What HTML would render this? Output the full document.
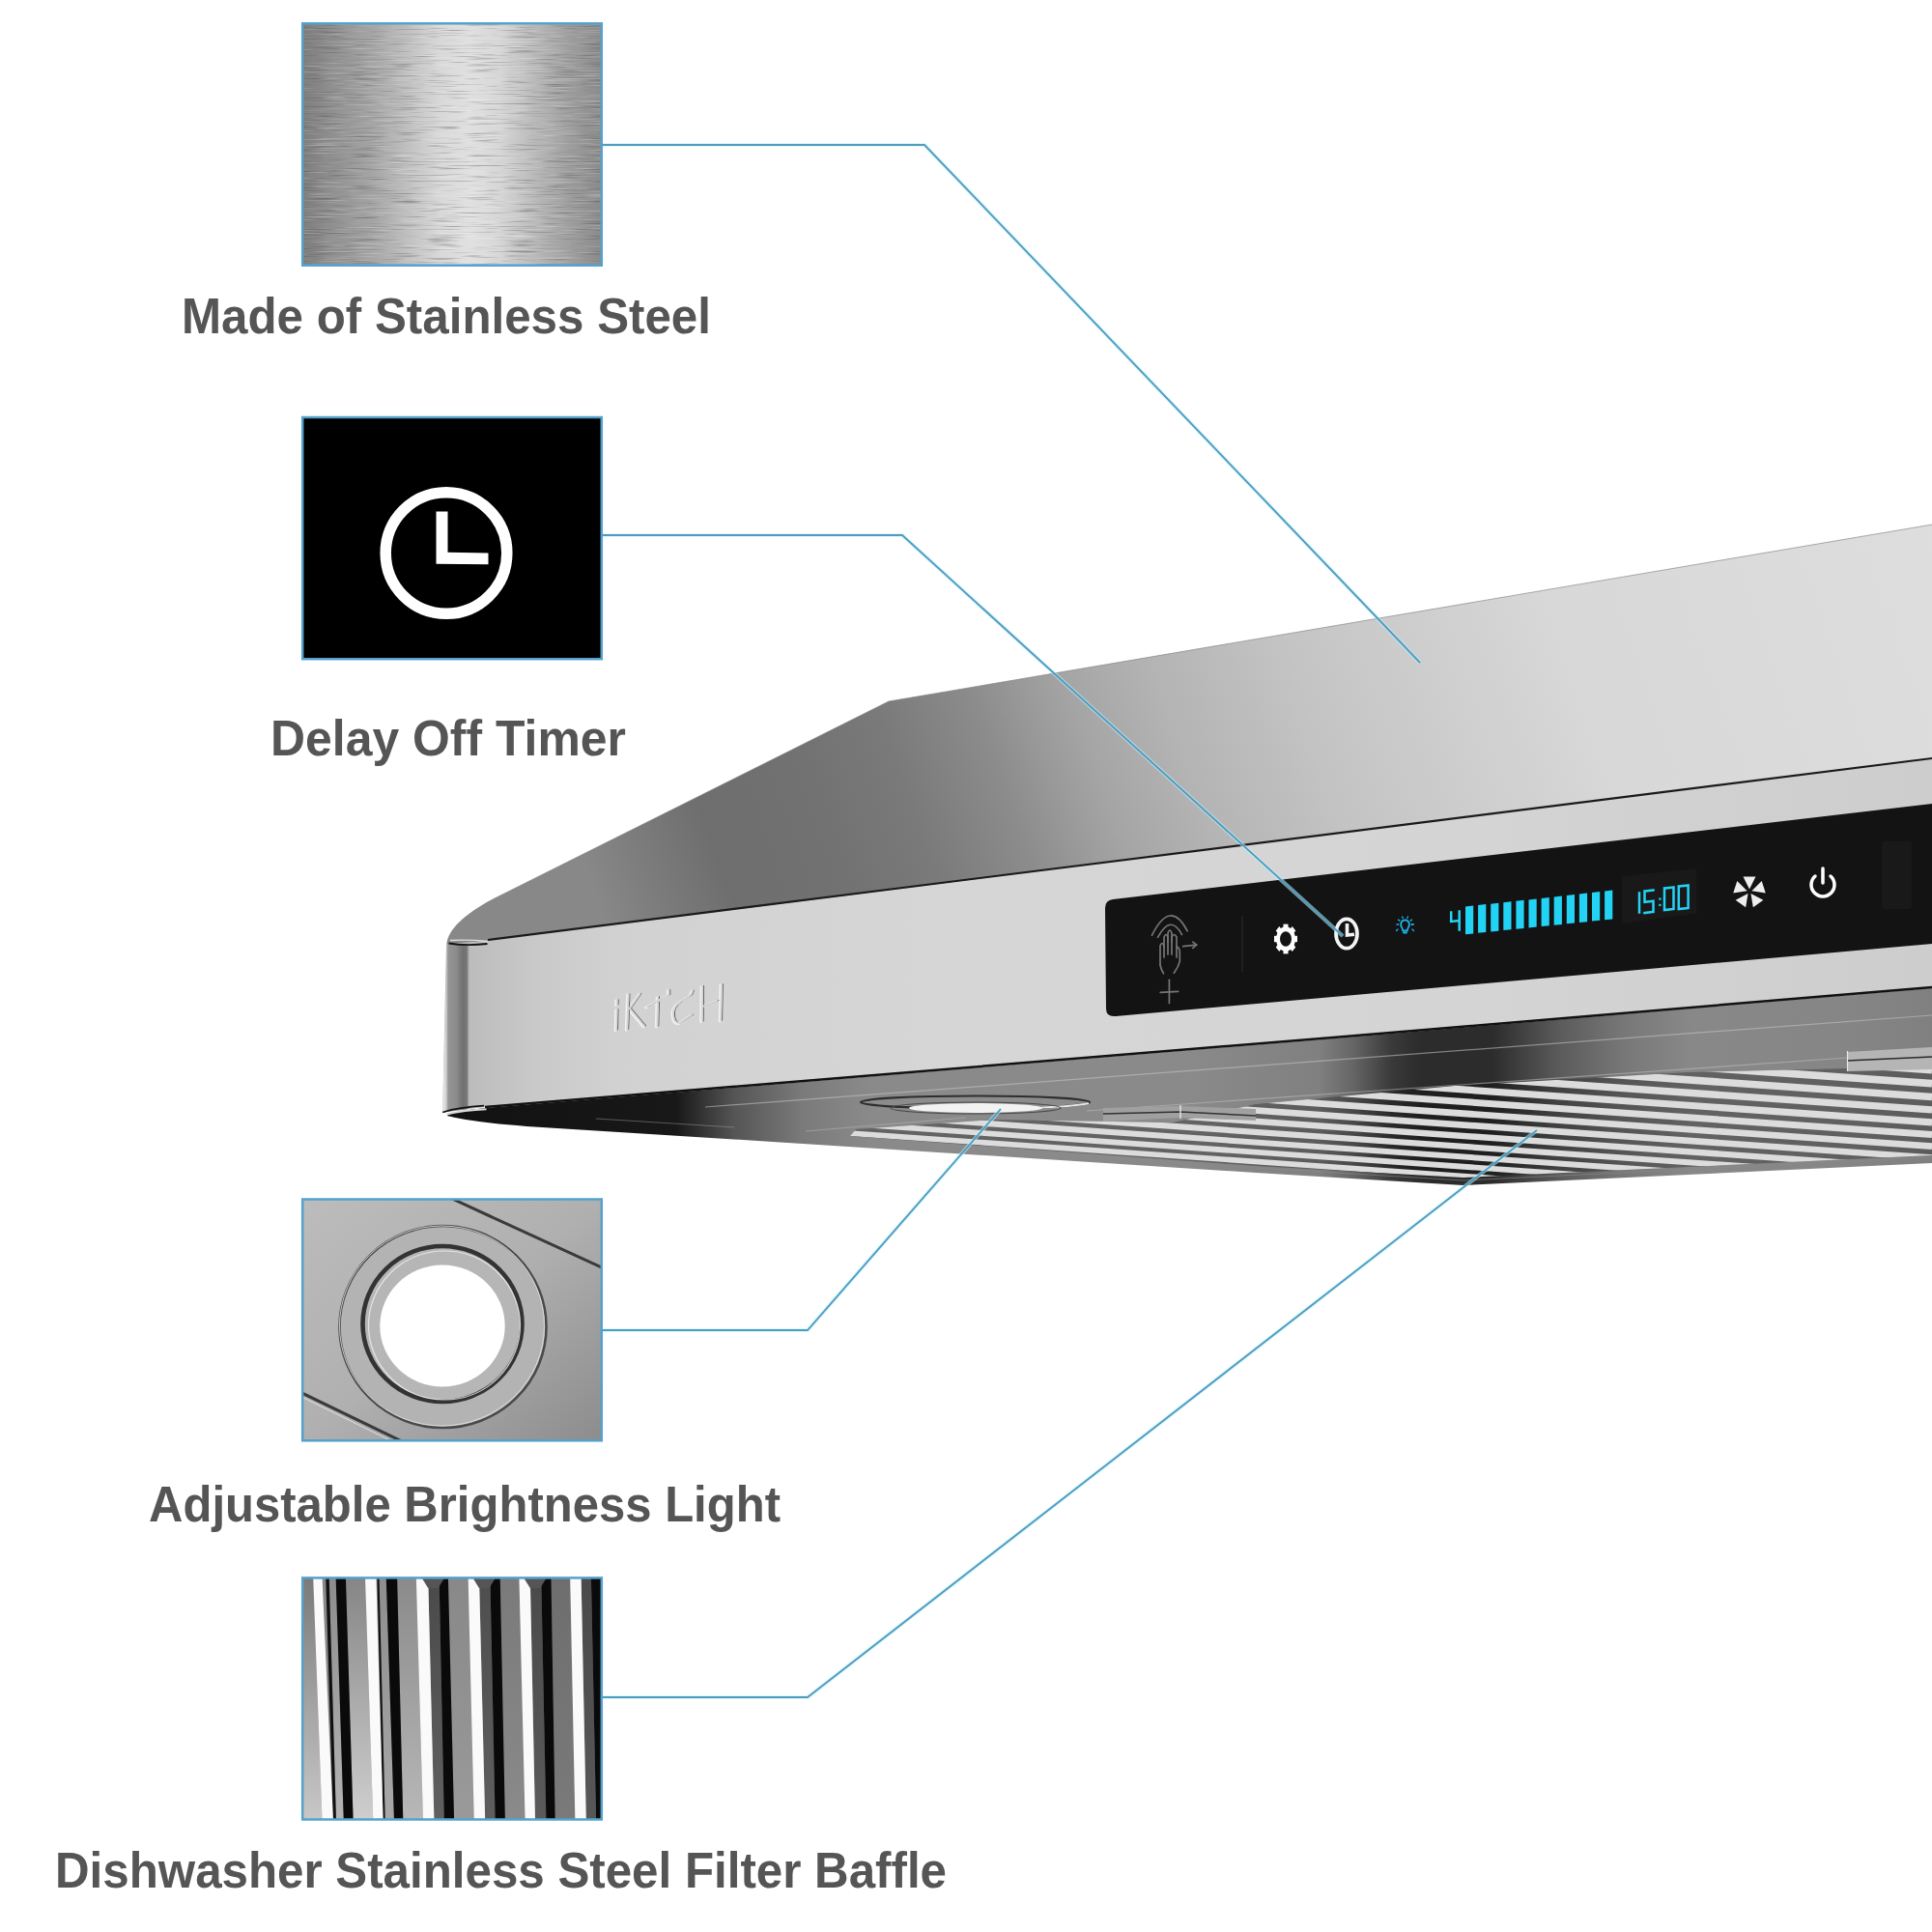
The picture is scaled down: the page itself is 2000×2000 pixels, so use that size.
<!DOCTYPE html>
<html><head><meta charset="utf-8"><title>Range hood</title>
<style>
html,body{margin:0;padding:0;background:#fff;width:2000px;height:2000px;overflow:hidden}
svg{display:block}
.lbl{font-family:"Liberation Sans",sans-serif;font-weight:bold;fill:#555555}
</style></head><body>
<svg width="2000" height="2000" viewBox="0 0 2000 2000">
<defs>


<linearGradient id="steel" x1="0" y1="0" x2="1" y2="0">
 <stop offset="0" stop-color="#7c7c7c"/>
 <stop offset="0.08" stop-color="#8c8c8c"/>
 <stop offset="0.24" stop-color="#a6a6a6"/>
 <stop offset="0.38" stop-color="#c6c6c6"/>
 <stop offset="0.46" stop-color="#d8d8d8"/>
 <stop offset="0.56" stop-color="#e0e0e0"/>
 <stop offset="0.66" stop-color="#d6d6d6"/>
 <stop offset="0.77" stop-color="#bababa"/>
 <stop offset="0.9" stop-color="#9c9c9c"/>
 <stop offset="1" stop-color="#8a8a8a"/>
</linearGradient>
<filter id="brushD" x="0" y="0" width="1" height="1" color-interpolation-filters="sRGB">
 <feTurbulence type="fractalNoise" baseFrequency="0.025 0.7" numOctaves="2" seed="3"/>
 <feColorMatrix type="matrix" values="0 0 0 0 0.25  0 0 0 0 0.25  0 0 0 0 0.25  3.2 0 0 0 -1.75"/>
</filter>
<filter id="brushL" x="0" y="0" width="1" height="1" color-interpolation-filters="sRGB">
 <feTurbulence type="fractalNoise" baseFrequency="0.025 0.7" numOctaves="2" seed="11"/>
 <feColorMatrix type="matrix" values="0 0 0 0 1  0 0 0 0 1  0 0 0 0 1  3.2 0 0 0 -1.75"/>
</filter>
<linearGradient id="lightbox" x1="0" y1="0" x2="1" y2="1">
 <stop offset="0" stop-color="#bcbcbc"/>
 <stop offset="0.5" stop-color="#b0b0b0"/>
 <stop offset="1" stop-color="#8c8c8c"/>
</linearGradient>
<linearGradient id="topsurf" gradientUnits="userSpaceOnUse" x1="600" y1="880" x2="2000" y2="390">
 <stop offset="0" stop-color="#888"/>
 <stop offset="0.04" stop-color="#7c7c7c"/>
 <stop offset="0.09" stop-color="#6e6e6e"/>
 <stop offset="0.17" stop-color="#727272"/>
 <stop offset="0.229" stop-color="#7a7a7a"/>
 <stop offset="0.295" stop-color="#8c8c8c"/>
 <stop offset="0.33" stop-color="#9a9a9a"/>
 <stop offset="0.36" stop-color="#a5a5a5"/>
 <stop offset="0.42" stop-color="#b4b4b4"/>
 <stop offset="0.515" stop-color="#c4c4c4"/>
 <stop offset="0.595" stop-color="#cdcdcd"/>
 <stop offset="0.7" stop-color="#d8d8d8"/>
 <stop offset="1" stop-color="#dedede"/>
</linearGradient>
<linearGradient id="frontface" gradientUnits="userSpaceOnUse" x1="460" y1="0" x2="2000" y2="0">
 <stop offset="0" stop-color="#b5b5b5"/>
 <stop offset="0.02" stop-color="#bdbdbd"/>
 <stop offset="0.065" stop-color="#cacaca"/>
 <stop offset="0.125" stop-color="#d2d2d2"/>
 <stop offset="0.35" stop-color="#d6d6d6"/>
 <stop offset="0.7" stop-color="#d4d4d4"/>
 <stop offset="1" stop-color="#cdcdcd"/>
</linearGradient>
<linearGradient id="capgrad" gradientUnits="userSpaceOnUse" x1="458.5" y1="0" x2="486" y2="0">
 <stop offset="0" stop-color="#e8e8e8"/>
 <stop offset="0.12" stop-color="#d0d0d0"/>
 <stop offset="0.2" stop-color="#959595"/>
 <stop offset="0.5" stop-color="#8c8c8c"/>
 <stop offset="0.75" stop-color="#707070"/>
 <stop offset="0.9" stop-color="#777"/>
 <stop offset="1" stop-color="#c0c0c0"/>
</linearGradient>
<linearGradient id="under" gradientUnits="userSpaceOnUse" x1="460" y1="0" x2="2000" y2="0">
 <stop offset="0.0000" stop-color="#111"/>
 <stop offset="0.1558" stop-color="#181818"/>
 <stop offset="0.1948" stop-color="#555"/>
 <stop offset="0.2403" stop-color="#7a7a7a"/>
 <stop offset="0.2857" stop-color="#8a8a8a"/>
 <stop offset="0.5000" stop-color="#8a8a8a"/>
 <stop offset="0.5877" stop-color="#808080"/>
 <stop offset="0.6104" stop-color="#666"/>
 <stop offset="0.6364" stop-color="#3a3a3a"/>
 <stop offset="0.6558" stop-color="#2c2c2c"/>
 <stop offset="0.7045" stop-color="#2c2c2c"/>
 <stop offset="0.7273" stop-color="#444"/>
 <stop offset="0.7487" stop-color="#5a5a5a"/>
 <stop offset="0.7922" stop-color="#777"/>
 <stop offset="0.8377" stop-color="#888"/>
 <stop offset="0.9351" stop-color="#868686"/>
 <stop offset="1.0000" stop-color="#808080"/>
</linearGradient>
<clipPath id="c1"><rect x="313" y="24" width="310" height="251"/></clipPath>
<clipPath id="c3"><rect x="313" y="1241" width="310" height="251"/></clipPath>
<clipPath id="c4"><rect x="313" y="1633" width="310" height="251"/></clipPath>
<clipPath id="cunder"><polygon points="463,1154 502,1147 2000,1025 2000,1204 1515,1227 1300,1214 800,1182"/></clipPath>
<clipPath id="cfilter"><polygon points="886,1169 1030,1159 1214,1162 1300,1143 1506,1124 1747,1110 2000,1104 2000,1196 1515,1219 1300,1207 880,1176"/></clipPath>
</defs>

<g clip-path="url(#c1)">
<rect x="312" y="23" width="312" height="253" fill="url(#steel)"/>
<rect x="312" y="23" width="312" height="253" fill="#000" filter="url(#brushD)" opacity="0.38"/>
<rect x="312" y="23" width="312" height="253" fill="#fff" filter="url(#brushL)" opacity="0.3"/>
</g>
<rect x="313.2" y="24.3" width="309.6" height="250.4" fill="none" stroke="#54a2cc" stroke-width="2.5"/>
<rect x="313.2" y="432" width="309.6" height="250.2" fill="#000" stroke="#54a2cc" stroke-width="2.5"/>
<circle cx="462" cy="572.5" r="62.8" fill="none" stroke="#fff" stroke-width="11.5"/>
<polygon points="451.5,529.5 463.5,529.5 463.5,571.8 505.5,572.5 505.5,584.3 451.5,583.8" fill="#fff"/>
<g clip-path="url(#c3)">
<rect x="312" y="1240" width="312" height="253" fill="url(#lightbox)"/>
<path d="M466,1240 L640,1320" stroke="#3a3a3a" stroke-width="3" fill="none"/>
<path d="M300,1436 L420,1494" stroke="#3a3a3a" stroke-width="3" fill="none"/>
<path d="M300,1440 L414,1496" stroke="#e0e0e0" stroke-width="1" fill="none"/>
<ellipse cx="458.5" cy="1373.5" rx="107" ry="104.5" fill="#b3b3b3" stroke="#4a4a4a" stroke-width="2.6"/>
<ellipse cx="457.5" cy="1372.5" rx="106" ry="103.5" fill="none" stroke="#e8e8e8" stroke-width="1" opacity="0.8"/>
<ellipse cx="458" cy="1370.5" rx="82.5" ry="80.5" fill="#b6b6b6" stroke="#333" stroke-width="4.6"/>
<ellipse cx="460" cy="1372" rx="78.5" ry="77" fill="none" stroke="#f0f0f0" stroke-width="1.2" opacity="0.8"/>
<ellipse cx="458" cy="1372.5" rx="64.7" ry="63" fill="#fff"/>
</g>
<rect x="313.2" y="1241.5" width="309.6" height="249.8" fill="none" stroke="#54a2cc" stroke-width="2.5"/>
<g clip-path="url(#c4)">
<rect x="312" y="1632" width="312" height="253" fill="#888"/>
<linearGradient id="bg1" x1="0" y1="0" x2="0" y2="1"><stop offset="0" stop-color="#7a7a7a"/><stop offset="1" stop-color="#c8c8c8"/></linearGradient>
<polygon points="306.6,1632 324.2,1632 333.5,1885 306.6,1885" fill="url(#bg1)"/>
<linearGradient id="bg2" x1="0" y1="0" x2="0" y2="1"><stop offset="0" stop-color="#858585"/><stop offset="1" stop-color="#cfcfcf"/></linearGradient>
<polygon points="357.9,1632 378.0,1632 386.3,1885 365.6,1885" fill="url(#bg2)"/>
<linearGradient id="bg3" x1="0" y1="0" x2="0" y2="1"><stop offset="0" stop-color="#8c8c8c"/><stop offset="1" stop-color="#b5b5b5"/></linearGradient>
<polygon points="340.7,1632 347.6,1632 355.8,1885 348.0,1885" fill="url(#bg3)"/>
<polygon points="347.6,1632 357.9,1632 365.6,1885 355.8,1885" fill="#0a0a0a"/>
<polygon points="337.2,1632 340.7,1632 348.0,1885 344.9,1885" fill="#111"/>
<polygon points="324.2,1632 333.5,1632 344.9,1885 333.5,1885" fill="#fafafa"/>
<linearGradient id="bg4" x1="0" y1="0" x2="0" y2="1"><stop offset="0" stop-color="#8a8a8a"/><stop offset="1" stop-color="#b8b8b8"/></linearGradient>
<polygon points="411.1,1632 430.8,1632 438.0,1885 417.3,1885" fill="url(#bg4)"/>
<linearGradient id="bg5" x1="0" y1="0" x2="0" y2="1"><stop offset="0" stop-color="#8e8e8e"/><stop offset="1" stop-color="#a8a8a8"/></linearGradient>
<polygon points="392.5,1632 399.7,1632 408.0,1885 398.7,1885" fill="url(#bg5)"/>
<polygon points="399.7,1632 411.1,1632 417.3,1885 408.0,1885" fill="#0a0a0a"/>
<polygon points="390.4,1632 392.5,1632 398.7,1885 396.6,1885" fill="#111"/>
<polygon points="378.0,1632 389.4,1632 396.6,1885 386.3,1885" fill="#fafafa"/>
<linearGradient id="bg6" x1="0" y1="0" x2="0" y2="1"><stop offset="0" stop-color="#888"/><stop offset="1" stop-color="#9a9a9a"/></linearGradient>
<polygon points="463.9,1632 484.6,1632 490.8,1885 470.1,1885" fill="url(#bg6)"/>
<linearGradient id="bg7" x1="0" y1="0" x2="0" y2="1"><stop offset="0" stop-color="#4a4a4a"/><stop offset="1" stop-color="#606060"/></linearGradient>
<polygon points="443.2,1632 454.6,1632 459.8,1885 449.4,1885" fill="url(#bg7)"/>
<polygon points="454.6,1632 463.9,1632 470.1,1885 459.8,1885" fill="#0a0a0a"/>
<polygon points="430.8,1632 443.2,1632 449.4,1885 438.0,1885" fill="#fafafa"/>
<linearGradient id="bg8" x1="0" y1="0" x2="0" y2="1"><stop offset="0" stop-color="#7a7a7a"/><stop offset="1" stop-color="#8a8a8a"/></linearGradient>
<polygon points="517.7,1632 537.4,1632 543.6,1885 522.9,1885" fill="url(#bg8)"/>
<linearGradient id="bg9" x1="0" y1="0" x2="0" y2="1"><stop offset="0" stop-color="#4e4e4e"/><stop offset="1" stop-color="#5e5e5e"/></linearGradient>
<polygon points="496.0,1632 507.4,1632 512.6,1885 502.2,1885" fill="url(#bg9)"/>
<polygon points="507.4,1632 517.7,1632 522.9,1885 512.6,1885" fill="#0a0a0a"/>
<polygon points="484.6,1632 496.0,1632 502.2,1885 490.8,1885" fill="#fafafa"/>
<linearGradient id="bg10" x1="0" y1="0" x2="0" y2="1"><stop offset="0" stop-color="#6e6e6e"/><stop offset="1" stop-color="#7a7a7a"/></linearGradient>
<polygon points="570.5,1632 590.2,1632 595.4,1885 574.7,1885" fill="url(#bg10)"/>
<linearGradient id="bg11" x1="0" y1="0" x2="0" y2="1"><stop offset="0" stop-color="#4a4a4a"/><stop offset="1" stop-color="#5a5a5a"/></linearGradient>
<polygon points="548.8,1632 560.2,1632 565.4,1885 554.0,1885" fill="url(#bg11)"/>
<polygon points="560.2,1632 570.5,1632 574.7,1885 565.4,1885" fill="#0a0a0a"/>
<polygon points="537.4,1632 548.8,1632 554.0,1885 543.6,1885" fill="#fafafa"/>
<linearGradient id="bg12" x1="0" y1="0" x2="0" y2="1"><stop offset="0" stop-color="#4a4a4a"/><stop offset="1" stop-color="#575757"/></linearGradient>
<polygon points="601.6,1632 611.9,1632 617.1,1885 606.8,1885" fill="url(#bg12)"/>
<polygon points="611.9,1632 625.4,1632 625.4,1885 617.1,1885" fill="#0a0a0a"/>
<polygon points="590.2,1632 601.6,1632 606.8,1885 595.4,1885" fill="#fafafa"/>
<polygon points="437.0,1634 459.8,1634 453.6,1644 443.2,1644" fill="#555"/>
<polygon points="489.8,1634 512.6,1634 506.4,1644 496.0,1644" fill="#555"/>
<polygon points="542.6,1634 565.4,1634 559.2,1644 548.8,1644" fill="#555"/>
</g>
<rect x="313.2" y="1633.4" width="309.6" height="250.1" fill="none" stroke="#54a2cc" stroke-width="2.5"/>
<text class="lbl" x="188" y="345" font-size="51.5" textLength="548" lengthAdjust="spacingAndGlyphs">Made of Stainless Steel</text>
<text class="lbl" x="280" y="782" font-size="51.5" textLength="368" lengthAdjust="spacingAndGlyphs">Delay Off Timer</text>
<text class="lbl" x="154" y="1575" font-size="51.5" textLength="654" lengthAdjust="spacingAndGlyphs">Adjustable Brightness Light</text>
<text class="lbl" x="57" y="1954" font-size="51.5" textLength="923" lengthAdjust="spacingAndGlyphs">Dishwasher Stainless Steel Filter Baffle</text>
<path d="M462.6,978 C463.5,966 474,950 512,930 L920,726 L2000,543 L2000,786 L505,974 Z" fill="url(#topsurf)"/>
<path d="M462.6,978 C463.5,966 474,950 512,930 L920,726 L2000,543" stroke="#7a7a7a" stroke-width="1" fill="none" opacity="0.6"/>
<path d="M462,977 L505,974 L2000,785 L2000,1025 L502,1146 L458.2,1151.5 Z" fill="url(#frontface)"/>
<path d="M462.6,977 L486,979 L485.4,1148 L458.2,1151.5 Z" fill="url(#capgrad)"/>
<path d="M466,973.5 Q485,972.5 505,974.5" stroke="#dcdcdc" stroke-width="1.4" fill="none"/>
<path d="M464.5,976.5 Q482,979.5 504.5,977" stroke="#111" stroke-width="1.8" fill="none"/>
<path d="M505,973 L2000,785" stroke="#1a1a1a" stroke-width="2.2" fill="none"/>
<path d="M462.6,1155 C470,1151 480,1149.5 502,1147 L1380,1075 L2000,1023 L2000,1204 L1515,1227 L1300,1214 L800,1182 L545,1166 Q490,1162 462.6,1155 Z" fill="url(#under)"/>
<path d="M502,1146 L1380,1074 L2000,1022" stroke="#111" stroke-width="2.5" fill="none"/>
<path d="M458.2,1151.4 Q475,1146 501,1144.6" stroke="#111" stroke-width="1.6" fill="none"/>
<path d="M462.6,1153.2 Q480,1149.5 503.5,1148.3" stroke="#d8d8d8" stroke-width="2" fill="none"/>
<g clip-path="url(#cunder)">
<path d="M730,1146 L2000,1051" stroke="#c8c8c8" stroke-width="1.2" opacity="0.55" fill="none"/>
<path d="M1125,1150 L1913,1095" stroke="#c8c8c8" stroke-width="1.2" opacity="0.5" fill="none"/>
<path d="M617,1158 L760,1167" stroke="#aaa" stroke-width="1" opacity="0.45" fill="none"/>
<path d="M834,1171 L1000,1157" stroke="#bbb" stroke-width="1" opacity="0.5" fill="none"/>
</g>
<g clip-path="url(#cfilter)">
<rect x="860" y="1090" width="1140" height="140" fill="#000" opacity="0.28"/>
<path d="M860,1171.7 L2000,1251.5" stroke="#dcdcdc" stroke-width="5.60" fill="none"/>
<path d="M860,1161.9 L2000,1241.7" stroke="#dcdcdc" stroke-width="5.80" fill="none"/>
<path d="M860,1151.7 L2000,1231.5" stroke="#dcdcdc" stroke-width="6.00" fill="none"/>
<path d="M860,1141.1 L2000,1220.9" stroke="#dcdcdc" stroke-width="6.20" fill="none"/>
<path d="M860,1130.1 L2000,1209.9" stroke="#dcdcdc" stroke-width="6.40" fill="none"/>
<path d="M860,1118.7 L2000,1198.5" stroke="#dcdcdc" stroke-width="6.60" fill="none"/>
<path d="M860,1106.9 L2000,1186.7" stroke="#dcdcdc" stroke-width="6.80" fill="none"/>
<path d="M860,1094.7 L2000,1174.5" stroke="#dcdcdc" stroke-width="7.00" fill="none"/>
<path d="M860,1082.1 L2000,1161.9" stroke="#dcdcdc" stroke-width="7.20" fill="none"/>
<path d="M860,1069.1 L2000,1148.9" stroke="#dcdcdc" stroke-width="7.40" fill="none"/>
<path d="M860,1055.7 L2000,1135.5" stroke="#dcdcdc" stroke-width="7.60" fill="none"/>
<path d="M860,1041.9 L2000,1121.7" stroke="#dcdcdc" stroke-width="7.80" fill="none"/>
<path d="M860,1027.7 L2000,1107.5" stroke="#dcdcdc" stroke-width="8.00" fill="none"/>
<path d="M860,1013.1 L2000,1092.9" stroke="#dcdcdc" stroke-width="8.20" fill="none"/>
<path d="M860,998.1 L2000,1077.9" stroke="#dcdcdc" stroke-width="8.40" fill="none"/>
<path d="M860,982.7 L2000,1062.5" stroke="#dcdcdc" stroke-width="8.60" fill="none"/>
<path d="M860,966.9 L2000,1046.7" stroke="#dcdcdc" stroke-width="8.80" fill="none"/>
<path d="M860,950.7 L2000,1030.5" stroke="#dcdcdc" stroke-width="9.00" fill="none"/>
<path d="M860,934.1 L2000,1013.9" stroke="#dcdcdc" stroke-width="9.20" fill="none"/>
<path d="M860,917.1 L2000,996.9" stroke="#dcdcdc" stroke-width="9.40" fill="none"/>
<path d="M860,899.7 L2000,979.5" stroke="#dcdcdc" stroke-width="9.60" fill="none"/>
<path d="M860,881.9 L2000,961.7" stroke="#dcdcdc" stroke-width="9.80" fill="none"/>
<path d="M860,863.7 L2000,943.5" stroke="#dcdcdc" stroke-width="10.00" fill="none"/>
<path d="M860,845.1 L2000,924.9" stroke="#dcdcdc" stroke-width="10.20" fill="none"/>
</g>
<path d="M1300,1209 L1515,1222 L2000,1198" stroke="#8a8a8a" stroke-width="1" fill="none" opacity="0.6"/>
<polygon points="1912,1089 2000,1084 2000,1107 1912,1109" fill="#b5b5b5"/>
<path d="M1912,1098 L2000,1094" stroke="#2a2a2a" stroke-width="1.6" fill="none"/>
<path d="M1912.5,1088 L1912.5,1109" stroke="#e8e8e8" stroke-width="1.2" fill="none"/>
<ellipse cx="1009.5" cy="1141" rx="118.5" ry="6.5" fill="#8c8c8c" stroke="#2e2e2e" stroke-width="2.2"/>
<path d="M1060,1147 Q1110,1146 1127,1142" stroke="#e6e6e6" stroke-width="2" fill="none"/>
<ellipse cx="1010" cy="1147" rx="88" ry="6" fill="none" stroke="#4a4a4a" stroke-width="1.2"/>
<ellipse cx="1010" cy="1147" rx="69" ry="5" fill="#f2f2f2"/>
<polygon points="1142,1147 1222,1145 1300,1148 1300,1160 1222,1157 1142,1161" fill="#a0a0a0"/>
<path d="M1142,1153 L1222,1151 L1300,1155" stroke="#333" stroke-width="1.5" fill="none"/>
<path d="M1222,1144 L1222,1158" stroke="#e0e0e0" stroke-width="1.5"/>
<path d="M1152,931 L2000,832 L2000,977 L1155,1052 Q1145,1053 1145,1044 L1144,940 Q1144,932 1152,931 Z" fill="#131313"/>
<polygon points="1679,907 1756,899 1756,946 1679,956" fill="#191919"/>
<rect x="1948" y="871" width="31" height="70" rx="3" fill="#191919"/>
<path d="M1286,948 L1286,1006" stroke="#262626" stroke-width="1.5"/>
<g stroke="#767676" stroke-width="1.7" fill="none" stroke-linecap="round" stroke-linejoin="round">
<path d="M1192.5,968.2 Q1211.5,930 1229.2,963.8"/>
<path d="M1198.5,970.3 Q1212,945.6 1223.5,967.6"/>
<path d="M1201,999 L1201,979 Q1203,974 1205,979 L1205,991"/>
<path d="M1205,980 L1205,970 Q1207,965 1209,970 L1209,988"/>
<path d="M1209,975 L1209,966 Q1211,960 1213,966 L1213,988"/>
<path d="M1213,975 L1213,970 Q1215.5,965 1218,970 L1218,991"/>
<path d="M1218,980 Q1221.3,981 1221.3,986 L1221.3,995 Q1220,1001 1215.3,1007.3"/>
<path d="M1201,999 Q1202,1004 1204.5,1007.8"/>
<path d="M1224.6,979.6 L1238.7,978.2"/><path d="M1234.8,975.2 L1238.7,978.2 L1234.8,981.4"/>
<path d="M1210.4,1014.3 L1210.4,1038.5"/><path d="M1201.2,1027.4 L1219.7,1026.3"/>
</g>
<g transform="translate(1331,972) scale(1,1.28)">
<circle r="8" fill="none" stroke="#fff" stroke-width="4"/>
<g fill="#fff">
<rect x="-2.5" y="-12" width="5" height="5" transform="rotate(0)"/>
<rect x="-2.5" y="-12" width="5" height="5" transform="rotate(45)"/>
<rect x="-2.5" y="-12" width="5" height="5" transform="rotate(90)"/>
<rect x="-2.5" y="-12" width="5" height="5" transform="rotate(135)"/>
<rect x="-2.5" y="-12" width="5" height="5" transform="rotate(180)"/>
<rect x="-2.5" y="-12" width="5" height="5" transform="rotate(225)"/>
<rect x="-2.5" y="-12" width="5" height="5" transform="rotate(270)"/>
<rect x="-2.5" y="-12" width="5" height="5" transform="rotate(315)"/>
</g></g>
<ellipse cx="1394" cy="966.5" rx="11" ry="15.2" fill="none" stroke="#f4f4f4" stroke-width="3.7"/>
<path d="M1394.5,956 L1394.5,968 L1402,967.2" stroke="#f4f4f4" stroke-width="3.6" fill="none"/>
<g stroke="#1cb4ec" stroke-width="1.8" fill="none" stroke-linecap="round"><path d="M1452.3,963.5 Q1451.5,960.5 1450.8,959.5 Q1449.8,957.5 1450.3,955.5 Q1451.3,952.3 1454.5,952.3 Q1457.7,952.3 1458.7,955.5 Q1459.2,957.5 1458.2,959.5 Q1457.5,960.5 1456.7,963.5 Z"/><path d="M1453,965.5 L1456,965.5"/></g>
<g stroke="#1cb4ec" stroke-width="1.3" stroke-linecap="round">
<line x1="1447.7" y1="957.0" x2="1445.9" y2="957.0"/>
<line x1="1448.9" y1="953.1" x2="1447.5" y2="952.1"/>
<line x1="1452.2" y1="950.6" x2="1451.6" y2="948.9"/>
<line x1="1456.8" y1="950.6" x2="1457.4" y2="948.9"/>
<line x1="1460.1" y1="953.1" x2="1461.5" y2="952.1"/>
<line x1="1461.3" y1="957.0" x2="1463.1" y2="957.0"/>
<line x1="1461.3" y1="957.0" x2="1463.1" y2="957.0"/>
<line x1="1447" y1="962" x2="1445.5" y2="963.5"/><line x1="1462" y1="962" x2="1463.5" y2="963.5"/>
</g>
<path d="M1502.2,944.5 L1502.2,954.0 M1502.2,954.0 L1510.7,953.1 M1510.7,943.6 L1510.7,953.1 M1510.7,953.1 L1510.7,962.6 " stroke="#22d3f6" stroke-width="2.5" fill="none" stroke-linecap="square"/>
<polygon points="1517.0,938.6 1525.2,937.6 1525.2,966.4 1517.0,967.2" fill="#22d3f6"/>
<polygon points="1530.1,937.1 1538.3,936.1 1538.3,965.0 1530.1,965.8" fill="#22d3f6"/>
<polygon points="1543.2,935.7 1551.4,934.7 1551.4,963.7 1543.2,964.5" fill="#22d3f6"/>
<polygon points="1556.3,934.2 1564.5,933.2 1564.5,962.3 1556.3,963.1" fill="#22d3f6"/>
<polygon points="1569.4,932.8 1577.6,931.8 1577.6,961.0 1569.4,961.8" fill="#22d3f6"/>
<polygon points="1582.5,931.4 1590.7,930.4 1590.7,959.6 1582.5,960.4" fill="#22d3f6"/>
<polygon points="1595.6,929.9 1603.8,928.9 1603.8,958.2 1595.6,959.0" fill="#22d3f6"/>
<polygon points="1608.7,928.5 1616.9,927.5 1616.9,956.9 1608.7,957.7" fill="#22d3f6"/>
<polygon points="1621.8,927.0 1630.0,926.0 1630.0,955.5 1621.8,956.3" fill="#22d3f6"/>
<polygon points="1634.9,925.6 1643.1,924.6 1643.1,954.2 1634.9,955.0" fill="#22d3f6"/>
<polygon points="1648.0,924.1 1656.2,923.1 1656.2,952.8 1648.0,953.6" fill="#22d3f6"/>
<polygon points="1661.1,922.6 1669.3,921.6 1669.3,951.4 1661.1,952.2" fill="#22d3f6"/>
<path d="M1697.0,924.5 L1697.0,934.5 M1697.0,934.5 L1697.0,944.5 " stroke="#22d3f6" stroke-width="2.5" fill="none" stroke-linecap="square"/>
<path d="M1702.5,922.5 L1711.5,921.4 M1702.5,922.5 L1702.5,933.8 M1702.5,933.8 L1711.5,932.7 M1711.5,932.7 L1711.5,943.9 M1702.5,945.0 L1711.5,943.9 " stroke="#22d3f6" stroke-width="2.5" fill="none" stroke-linecap="square"/>
<rect x="1717.3" y="929.5" width="2.2" height="2.2" fill="#22d3f6"/><rect x="1717.3" y="935.8" width="2.2" height="2.2" fill="#22d3f6"/>
<path d="M1723.0,919.5 L1732.5,918.4 M1732.5,918.4 L1732.5,929.6 M1732.5,929.6 L1732.5,940.9 M1723.0,942.0 L1732.5,940.9 M1723.0,930.8 L1723.0,942.0 M1723.0,919.5 L1723.0,930.8 " stroke="#22d3f6" stroke-width="2.5" fill="none" stroke-linecap="square"/>
<path d="M1737.8,917.6 L1747.6,916.4 M1747.6,916.4 L1747.6,928.2 M1747.6,928.2 L1747.6,939.9 M1737.8,941.1 L1747.6,939.9 M1737.8,929.4 L1737.8,941.1 M1737.8,917.6 L1737.8,929.4 " stroke="#22d3f6" stroke-width="2.5" fill="none" stroke-linecap="square"/>
<g transform="translate(1811,923)" fill="#eee">
<path d="M0,-2.5 L-6.5,-15.5 L6.5,-15.5 Z" transform="rotate(0)"/>
<path d="M0,-2.5 L-6.5,-15.5 L6.5,-15.5 Z" transform="rotate(72)"/>
<path d="M0,-2.5 L-6.5,-15.5 L6.5,-15.5 Z" transform="rotate(144)"/>
<path d="M0,-2.5 L-6.5,-15.5 L6.5,-15.5 Z" transform="rotate(216)"/>
<path d="M0,-2.5 L-6.5,-15.5 L6.5,-15.5 Z" transform="rotate(288)"/>
</g>
<g stroke="#fff" stroke-width="3.5" fill="none" stroke-linecap="round"><path d="M1879,907 A12,12 0 1,0 1895,907"/><path d="M1887,899 L1887,914"/></g>
<path d="M638.6,1045 L638.2,1066 M638.8,1035 L638.7,1040 M650.6,1029 L649.3,1065.4 M662.6,1028.6 L651.8,1043.9 L667.1,1062.1 M669.6,1042.2 L692.4,1029.8 L692.4,1024.8 M681.2,1032 L680.4,1062.1 M716.8,1025.5 Q716.5,1030 712,1032 Q697,1040 697,1048 Q697,1060 703.6,1058.8 L716,1050.5 M727.2,1020.7 L726.8,1057.1 M727.2,1042.2 L742.5,1035.6 M747,1019 L746.2,1056.3" transform="translate(-1.2,0.8)" stroke="#f2f2f2" stroke-width="2.6" fill="none" stroke-linecap="round" stroke-linejoin="round"/>
<path d="M638.6,1045 L638.2,1066 M638.8,1035 L638.7,1040 M650.6,1029 L649.3,1065.4 M662.6,1028.6 L651.8,1043.9 L667.1,1062.1 M669.6,1042.2 L692.4,1029.8 L692.4,1024.8 M681.2,1032 L680.4,1062.1 M716.8,1025.5 Q716.5,1030 712,1032 Q697,1040 697,1048 Q697,1060 703.6,1058.8 L716,1050.5 M727.2,1020.7 L726.8,1057.1 M727.2,1042.2 L742.5,1035.6 M747,1019 L746.2,1056.3" transform="translate(1.3,-0.2)" stroke="#3c3c3c" stroke-width="1.1" fill="none" stroke-linecap="round" stroke-linejoin="round" opacity="0.85"/>
<path d="M638.6,1045 L638.2,1066 M638.8,1035 L638.7,1040 M650.6,1029 L649.3,1065.4 M662.6,1028.6 L651.8,1043.9 L667.1,1062.1 M669.6,1042.2 L692.4,1029.8 L692.4,1024.8 M681.2,1032 L680.4,1062.1 M716.8,1025.5 Q716.5,1030 712,1032 Q697,1040 697,1048 Q697,1060 703.6,1058.8 L716,1050.5 M727.2,1020.7 L726.8,1057.1 M727.2,1042.2 L742.5,1035.6 M747,1019 L746.2,1056.3" stroke="#d6d6d6" stroke-width="2" fill="none" stroke-linecap="round" stroke-linejoin="round"/>
<g stroke="#c6f4fc" stroke-width="4.2" fill="none" opacity="0.55" stroke-linejoin="round">
<polyline points="624,150 957,150 1470,686"/>
<polyline points="624,554 934,554 1390,969"/>
<polyline points="624,1377 836,1377 1036,1148"/>
<polyline points="624,1757 836,1757 1591,1170"/>
</g>
<g stroke="#4f9cc0" stroke-width="1.9" fill="none">
<polyline points="624,150 957,150 1470,686"/>
<polyline points="624,554 934,554 1390,969"/>
<polyline points="624,1377 836,1377 1036,1148"/>
<polyline points="624,1757 836,1757 1591,1170"/>
</g>
</svg></body></html>
